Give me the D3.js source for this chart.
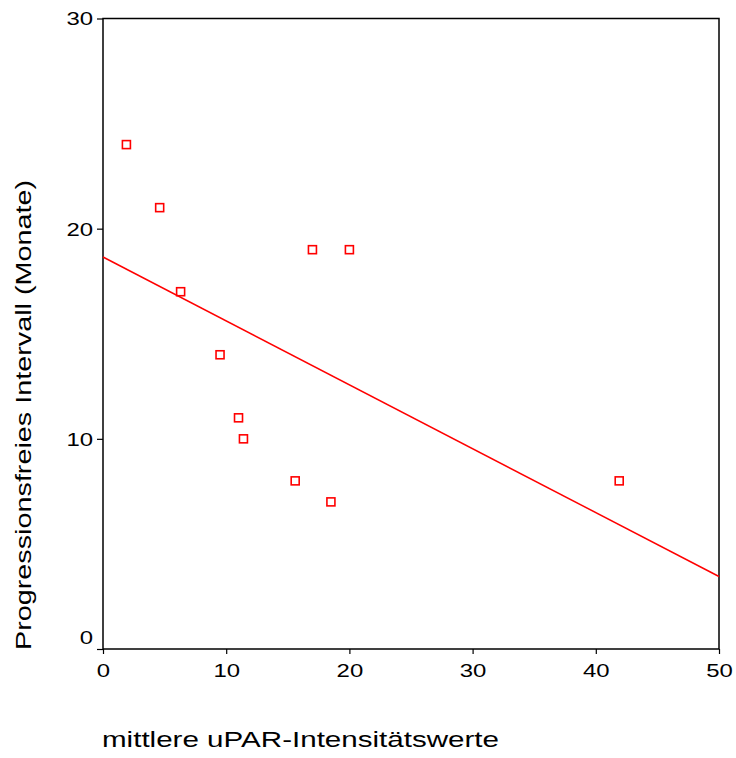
<!DOCTYPE html>
<html>
<head>
<meta charset="utf-8">
<script src="https://cdn.jsdelivr.net/npm/d3@7"></script>
<style>
  body { margin: 0; background: #fff; }
  svg text { font-family: "Liberation Sans", Arial, sans-serif; fill: #000; }
</style>
</head>
<body>
<svg id="chart" width="736" height="758"></svg>
<script>
  // uPAR intensity vs progression-free interval
  var upar = [1.9, 4.6, 6.3, 9.5, 11.0, 11.4, 15.6, 18.5, 17.0, 20.0, 41.9];
  var months = [24, 21, 17, 14, 11, 10, 8, 7, 19, 19, 8];
  // fit line (x, y at both ends)
  var fitX = [0, 50];
  var fitY = [18.65, 3.45];
  var xTicks = [0, 10, 20, 30, 40, 50];
  var yTicks = [0, 10, 20, 30];
  var xTitle = "mittlere uPAR-Intensitätswerte";
  var yTitle = "Progressionsfreies Intervall (Monate)";

  (function () {
    var svg = d3.select("#chart");
    var mLeft = 103, mRight = 719, mTop = 18.5, mBottom = 649;
    var digitW = 13.3; // the original font runs wide

    var x = d3.scaleLinear().domain([0, 50]).range([mLeft, mRight]);
    var y = d3.scaleLinear().domain([0, 30]).range([mBottom, mTop]);

    // frame
    svg.append("rect")
      .attr("x", mLeft).attr("y", mTop)
      .attr("width", mRight - mLeft).attr("height", mBottom - mTop)
      .attr("fill", "none").attr("stroke", "#000").attr("stroke-width", 1.5);

    var xAxis = svg.append("g")
      .attr("transform", "translate(0," + mBottom + ")")
      .call(d3.axisBottom(x).tickValues(xTicks).tickSize(5).tickPadding(10).tickFormat(d3.format("d")));
    var yAxis = svg.append("g")
      .attr("transform", "translate(" + mLeft + ",0)")
      .call(d3.axisLeft(y).tickValues(yTicks).tickSize(6).tickPadding(4).tickFormat(d3.format("d")));

    [xAxis, yAxis].forEach(function (g) {
      g.select(".domain").remove();
      g.selectAll("line").attr("stroke", "#000").attr("stroke-width", 1.2);
      g.selectAll("text")
        .attr("font-family", null).attr("font-size", null)
        .style("font-size", "18px")
        .attr("lengthAdjust", "spacingAndGlyphs")
        .attr("textLength", function (d) { return String(d).length * digitW; });
    });
    // SPSS lifts the 0 label on the y axis off the corner
    yAxis.selectAll(".tick text").attr("dy", function (d) { return d === 0 ? "-0.32em" : "0.36em"; });

    // regression line
    svg.append("line")
      .attr("x1", x(fitX[0])).attr("y1", y(fitY[0]))
      .attr("x2", x(fitX[1])).attr("y2", y(fitY[1]))
      .attr("stroke", "#ff0000").attr("stroke-width", 1.5);

    // points
    var pts = d3.range(upar.length).map(function (i) { return { x: upar[i], y: months[i] }; });
    svg.selectAll(".pt")
      .data(pts)
      .enter().append("rect")
      .attr("class", "pt")
      .attr("x", function (d) { return x(d.x) - 4; })
      .attr("y", function (d) { return y(d.y) - 4; })
      .attr("width", 8).attr("height", 8)
      .attr("fill", "none").attr("stroke", "#ff0000").attr("stroke-width", 1.6);

    svg.append("text")
      .attr("x", 102).attr("y", 747)
      .style("font-size", "22px")
      .attr("textLength", 397).attr("lengthAdjust", "spacingAndGlyphs")
      .text(xTitle);

    svg.append("text")
      .attr("transform", "translate(31,415) rotate(-90)")
      .attr("text-anchor", "middle")
      .style("font-size", "22px")
      .attr("textLength", 470).attr("lengthAdjust", "spacingAndGlyphs")
      .text(yTitle);
  })();
</script>
</body>
</html>
